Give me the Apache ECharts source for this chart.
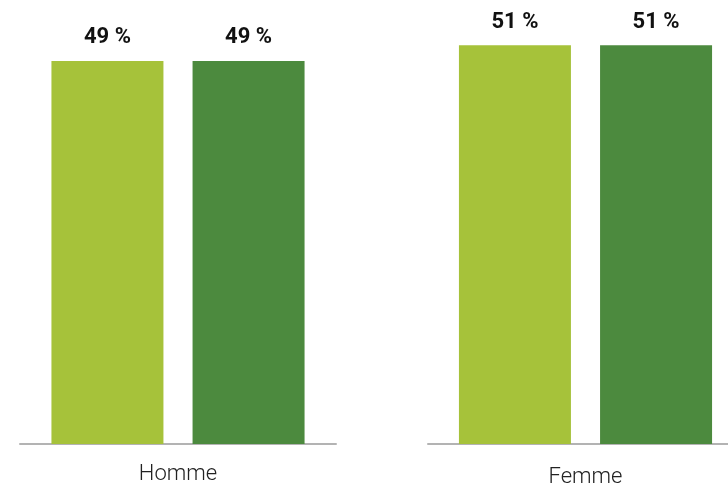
<!DOCTYPE html>
<html><head><meta charset="utf-8">
<script src="https://cdn.jsdelivr.net/npm/echarts@6/dist/echarts.min.js"></script>
<style>html,body{margin:0;padding:0;background:#fff}#c{width:728px;height:486px}</style>
</head><body><div id="c"></div>
<script>
const categoriesLeft = ["Homme"];
const categoriesRight = ["Femme"];
const seriesA = [49, 51];   // light green
const seriesB = [49, 51];   // dark green
const colors = ["#A6C23A", "#4C8A3E"];

const chart = echarts.init(document.getElementById('c'));
const lbl = {show:true, position:'top', distance:12, formatter: p => p.value + ' %',
  fontFamily:'Roboto', fontWeight:'bold', fontSize:22, color:'#111'};
const grids = [
  {left:20, top:14, width:316, height:430, outerBoundsMode:'none', containLabel:false},
  {left:428, top:14, width:315, height:430, outerBoundsMode:'none', containLabel:false}
];
const xAxes = [categoriesLeft, categoriesRight].map((cats,i)=>({
  type:'category', gridIndex:i, data:cats,
  axisTick:{show:false},
  axisLine:{lineStyle:{color:'#b3b3b3', width:2}},
  axisLabel:{margin: i===0?19:22, fontFamily:'Roboto', fontWeight:300, fontSize:22, color:'#222'}
}));
const yAxes = [0,1].map(i=>({type:'value', gridIndex:i, min:0, max:55, show:false, splitLine:{show:false}}));
const series = [];
[0,1].forEach(i=>{
  series.push({type:'bar', xAxisIndex:i, yAxisIndex:i, data:[seriesA[i]], barWidth:112, barGap:'26%',
    itemStyle:{color:colors[0]}, label:lbl});
  series.push({type:'bar', xAxisIndex:i, yAxisIndex:i, data:[seriesB[i]], barWidth:112, barGap:'26%',
    itemStyle:{color:colors[1]}, label:lbl});
});
chart.setOption({animation:false, grid:grids, xAxis:xAxes, yAxis:yAxes, series});
</script></body></html>
